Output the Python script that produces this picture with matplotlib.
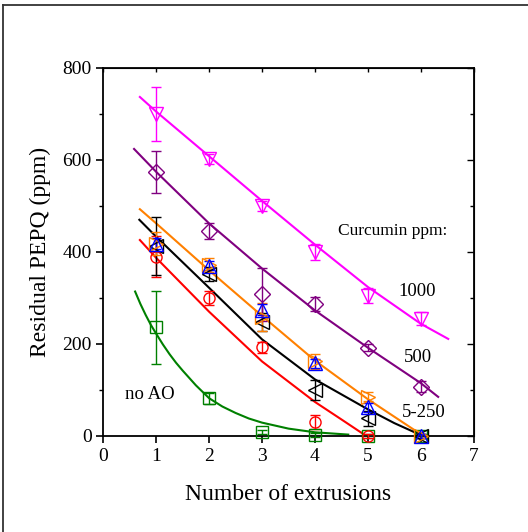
import matplotlib
matplotlib.use("Agg")
import matplotlib.pyplot as plt
from matplotlib.lines import Line2D
from matplotlib.ticker import MultipleLocator

plt.rcParams['font.family'] = ['Liberation Serif', 'DejaVu Serif']

# ---- data points (x = number of extrusions) ----
x = [1, 2, 3, 4, 5, 6]

mag_y = [700, 602, 500, 400, 305, 255]
mag_e = [58, 10, 10, 18, 16, 14]

pur_y = [574, 446, 308, 287, 192, 107]
pur_e = [46, 18, 58, 16, 8, 12]

ora_y = [418, 372, 258, 162, 85, 0]
ora_e = [25, 16, 30, 16, 10, 4]

blu_y = [418, 370, 274, 158, 62, 0]
blu_e = [12, 10, 12, 10, 10, 4]

blk_y = [413, 352, 248, 100, 38, 0]
blk_e = [62, 15, 20, 22, 16, 4]

red_x = [1, 2, 3, 4, 5]
red_y = [390, 300, 193, 31, 0]
red_e = [45, 15, 12, 15, 4]

grn_y = [236, 82, 9, 2, 0, 0]
grn_e = [79, 12, 4, 4, 4, 4]

# ---- fitted curves ----
mag_fx = [0.69, 1, 2, 3, 4, 5, 6, 6.52]
mag_fy = [737, 705, 608, 511, 416, 324, 244, 211]

pur_fx = [0.58, 1, 2, 3, 4, 5, 6, 6.33]
pur_fy = [624, 574, 462, 364, 273, 192, 115, 85]

ora_fx = [0.69, 1, 2, 3, 4, 5, 6.05]
ora_fy = [493, 462, 360, 261, 164, 80, 0]

blk_fx = [0.68, 1, 2, 3, 4, 5, 5.5, 6.0]
blk_fy = [470, 433, 322, 210, 123, 58, 28, 2]

red_fx = [0.69, 1, 2, 3, 4, 4.5, 4.97]
red_fy = [426, 387, 270, 162, 74, 36, 0]

grn_fx = [0.6, 0.7, 0.8, 0.9, 1.0, 1.125, 1.25, 1.375, 1.5, 1.75, 2.0, 2.25, 2.5, 2.75,
          3.0, 3.5, 4.0, 4.63]
grn_fy = [314, 287, 263, 241, 222, 199, 178, 159, 142, 110, 82, 64, 50, 38,
          29, 16, 8, 3]

xticks = [0, 1, 2, 3, 4, 5, 6, 7]
yticks = [0, 200, 400, 600, 800]

fig = plt.figure(figsize=(5.28, 5.32), dpi=100)
ax = fig.add_axes([0.1958, 0.1805, 0.7012, 0.6917])

# figure frame (only left and top edges visible)
fig.lines.append(Line2D([0.0066, 0.0066], [0.0, 0.9897], transform=fig.transFigure,
                        color='#333333', lw=1.3))
fig.lines.append(Line2D([0.0066, 1.0], [0.9897, 0.9897], transform=fig.transFigure,
                        color='#333333', lw=1.3))

fits = [
    (mag_fx, mag_fy, '#FF00FF'),
    (pur_fx, pur_fy, '#800080'),
    (ora_fx, ora_fy, '#FF8000'),
    (blk_fx, blk_fy, '#000000'),
    (red_fx, red_fy, '#FF0000'),
    (grn_fx, grn_fy, '#008000'),
]
for fx, fy, c in fits:
    ax.plot(fx, fy, '-', color=c, lw=1.5, zorder=2)

series = [
    (x, grn_y, grn_e, '#008000', 's'),
    (red_x, red_y, red_e, '#FF0000', 'o'),
    (x, blk_y, blk_e, '#000000', '<'),
    (x, ora_y, ora_e, '#FF8000', '>'),
    (x, blu_y, blu_e, '#0000FF', '^'),
    (x, pur_y, pur_e, '#800080', 'D'),
    (x, mag_y, mag_e, '#FF00FF', 'v'),
]
for sx, sy, se, c, m in series:
    ms = 8 if m in ('D', 's', 'o') else 10
    ax.errorbar(sx, sy, yerr=se, fmt=m, color=c, mfc='none', mec=c, ms=ms,
                mew=1.0, elinewidth=1.0, capsize=3.5, capthick=1.0,
                clip_on=False, zorder=3)

ax.set_xlim(0, 7)
ax.set_ylim(0, 800)
ax.set_xticks(xticks)
ax.set_yticks(yticks)
ax.yaxis.set_minor_locator(MultipleLocator(100))
ax.tick_params(axis='both', which='major', labelsize=14, width=1.2, length=5, direction='out',
               top=False, right=False)
ax.tick_params(axis='y', which='minor', width=1.0, length=3, direction='out')
ax.tick_params(axis='x', which='minor', bottom=False)
for s in ax.spines.values():
    s.set_linewidth(1.3)

# inward mirrored ticks on top and right
axt = ax.secondary_xaxis('top')
axt.set_xticks(xticks)
axt.tick_params(direction='in', length=3, width=1.0, labeltop=False)
axr = ax.secondary_yaxis('right')
axr.set_yticks(yticks)
axr.yaxis.set_minor_locator(MultipleLocator(100))
axr.tick_params(which='major', direction='in', length=5, width=1.0, labelright=False)
axr.tick_params(which='minor', direction='in', length=3, width=1.0)

ax.set_xlabel('Number of extrusions', fontsize=17, labelpad=14)
ax.set_ylabel('Residual PEPQ (ppm)', fontsize=17, labelpad=8)

ax.text(5.46, 446, 'Curcumin ppm:', fontsize=12.5, ha='center', va='center')
ax.text(5.93, 315, '1000', fontsize=13.5, ha='center', va='center')
ax.text(5.95, 170, '500', fontsize=13.5, ha='center', va='center')
ax.text(6.06, 50, '5-250', fontsize=13.5, ha='center', va='center')
ax.text(0.88, 91, 'no AO', fontsize=13.5, ha='center', va='center')

fig.savefig('out.png', dpi=100)
